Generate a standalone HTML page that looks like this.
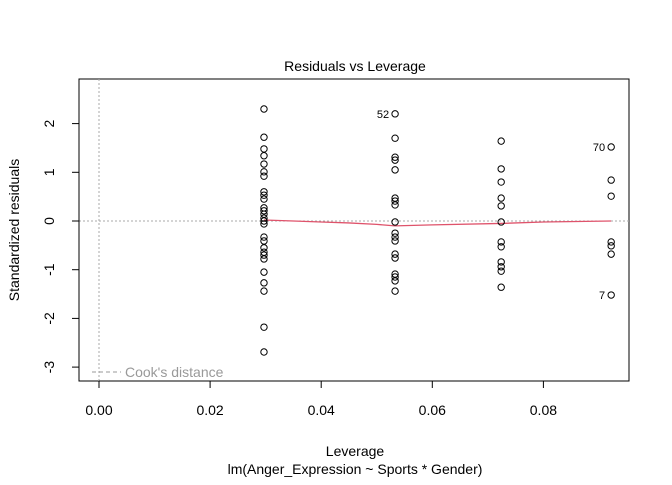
<!DOCTYPE html>
<html><head><meta charset="utf-8"><style>
body{margin:0;background:#fff}
svg{font-family:"Liberation Sans",Arial,sans-serif}
</style></head><body>
<svg id="c" width="672" height="480">
<text x="355" y="71" text-anchor="middle" font-size="14">Residuals vs Leverage</text>
<rect x="79" y="79" width="550" height="302" fill="none" stroke="#000"/>
<text x="355" y="456" text-anchor="middle" font-size="14">Leverage</text>
<text x="355" y="474" text-anchor="middle" font-size="14">lm(Anger_Expression ~ Sports * Gender)</text>
<text transform="translate(19,230) rotate(-90)" text-anchor="middle" font-size="14">Standardized residuals</text>
<g id="g"></g>
</svg>
<script>
const xTicks=[0,0.02,0.04,0.06,0.08];
const xTickLabels=["0.00","0.02","0.04","0.06","0.08"];
const yTicks=[-3,-2,-1,0,1,2];
const yTickLabels=["-3","-2","-1","0","1","2"];
const lev1=0.0297, lev2=0.0533, lev3=0.0724, lev4=0.0922;
const res1=[2.30,1.72,1.48,1.34,1.17,1.01,0.92,0.60,0.53,0.45,0.27,0.21,0.14,0.06,0,-0.06,-0.33,-0.41,-0.55,-0.64,-0.70,-0.78,-1.05,-1.27,-1.44,-2.18,-2.69];
const res2=[2.20,1.70,1.31,1.25,1.05,0.47,0.41,0.33,-0.02,-0.25,-0.33,-0.41,-0.68,-0.76,-1.09,-1.15,-1.23,-1.44];
const res3=[1.64,1.07,0.80,0.47,0.31,-0.02,-0.43,-0.53,-0.84,-0.94,-1.03,-1.36];
const res4=[1.52,0.84,0.51,-0.43,-0.51,-0.68,-1.52];
const smoothLev=[0.0297,0.035,0.04,0.045,0.05,0.0533,0.06,0.0724,0.08,0.0922];
const smoothRes=[0.02,0.0,-0.02,-0.04,-0.07,-0.1,-0.08,-0.05,-0.02,0];
const labelNames=["52","70","7"];
const labelLev=[lev2,lev4,lev4];
const labelRes=[2.20,1.52,-1.52];

const NS="http://www.w3.org/2000/svg";
const g=document.getElementById('g');
const X=v=>99+v*5555;
const Y=v=>221-v*48.7;
function mk(t,a){const e=document.createElementNS(NS,t);for(const k in a)e.setAttribute(k,a[k]);g.appendChild(e);return e;}
// reference dotted lines
let e=mk('line',{x1:79,x2:629,y1:Y(0),y2:Y(0),stroke:'#aaa','stroke-dasharray':'2,2'});


e=mk('line',{x1:X(0),x2:X(0),y1:79,y2:381,stroke:'#aaa','stroke-dasharray':'2,2'});


// x axis
e=mk('line',{x1:X(0),x2:X(0.08),y1:381,y2:381,stroke:'#000'});


xTicks.forEach((t,i)=>{
 let l=mk('line',{x1:X(t),x2:X(t),y1:381,y2:388,stroke:'#000'});
 
 
 let tx=mk('text',{x:X(t),y:415,'text-anchor':'middle','font-size':14});
 tx.textContent=xTickLabels[i];
 
 
});
// y axis
e=mk('line',{x1:79,x2:79,y1:Y(-3),y2:Y(2),stroke:'#000'});


yTicks.forEach((t,i)=>{
 let l=mk('line',{x1:72,x2:79,y1:Y(t),y2:Y(t),stroke:'#000'});
 
 
 let tx=mk('text',{x:0,y:0,'text-anchor':'middle','font-size':14,transform:`translate(54,${Y(t)}) rotate(-90)`});
 tx.textContent=yTickLabels[i];
 
 
});
// smooth line
const pl=mk('polyline',{points:smoothLev.map((l,i)=>X(l)+','+Y(smoothRes[i])).join(' '),fill:'none',stroke:'#DF536B','stroke-width':1.3});


// points
[[lev1,res1],[lev2,res2],[lev3,res3],[lev4,res4]].forEach(([l,arr])=>arr.forEach(r=>{
 const c=mk('circle',{cx:X(l),cy:Y(r),r:3.2,fill:'none',stroke:'#000','stroke-width':1});
 
 
}));
labelNames.forEach((n,i)=>{
 const t=mk('text',{x:X(labelLev[i])-6,y:Y(labelRes[i])+4,'text-anchor':'end','font-size':11});
 t.textContent=n;
 
 
});
// legend
e=mk('line',{x1:92,x2:121,y1:372,y2:372,stroke:'#999','stroke-dasharray':'4,3'});


e=mk('text',{x:125,y:377,'font-size':14,fill:'#999'});
e.textContent="Cook's distance";


</script>
</body></html>
